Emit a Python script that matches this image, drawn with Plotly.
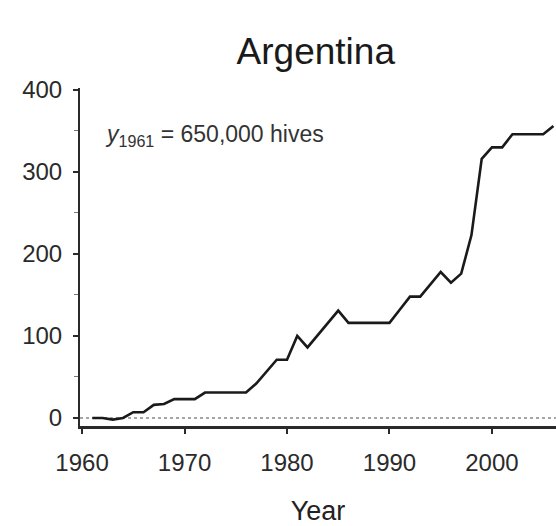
import plotly.graph_objects as go

# Managed honey-bee hives in Argentina, % change relative to 1961
years = list(range(1961, 2007))
pct_change = [
    0, 0, -2, 0, 7, 7, 16, 17, 23, 23,
    23, 31, 31, 31, 31, 31, 42, 57, 71, 71,
    100, 86, 101, 116, 131, 116, 116, 116, 116, 116,
    132, 148, 148, 163, 178, 165, 176, 223, 316, 330,
    330, 346, 346, 346, 346, 356,
]
x_ticks = [1960, 1970, 1980, 1990, 2000]
y_ticks = [0, 100, 200, 300, 400]

font_family = "Liberation Sans, Arial, sans-serif"
axis_color = "#2a2a2a"

fig = go.Figure()
fig.add_trace(go.Scatter(
    x=years, y=pct_change, mode="lines",
    line=dict(color="#1a1a1a", width=2.6),
    showlegend=False, hoverinfo="skip",
))

# dotted reference line at zero
fig.add_shape(type="line", xref="paper", x0=0, x1=1, yref="y", y0=0, y1=0,
              line=dict(color="#888888", width=1.5, dash="dot"), layer="below")

fig.add_annotation(
    text="<i>y</i><sub>1961</sub> = 650,000 hives",
    xref="x", yref="y", x=1962.0, y=345, xanchor="left", yanchor="middle",
    showarrow=False, font=dict(family=font_family, size=23, color="#333333"),
)

fig.update_layout(
    width=556, height=526,
    margin=dict(l=80, r=0, t=88, b=100),
    paper_bgcolor="white", plot_bgcolor="white",
    font=dict(family=font_family, color=axis_color),
    title=dict(text="Argentina", x=0.568, xanchor="center", xref="container",
               y=0.902, yanchor="middle", yref="container",
               font=dict(family=font_family, size=37, color="#1a1a1a")),
)
fig.update_xaxes(
    range=[1959.8, 2006.25], tickvals=x_ticks, ticktext=[str(v) for v in x_ticks],
    showgrid=False, zeroline=False, showline=True, linecolor=axis_color, linewidth=2.5,
    ticks="outside", ticklen=5, tickwidth=1.5, tickcolor=axis_color,
    tickfont=dict(size=24, color=axis_color), ticklabelstandoff=8,
    title=dict(text="Year", font=dict(size=27, color="#222222"), standoff=28),
)
fig.update_yaxes(
    range=[-9.8, 402.4], tickvals=y_ticks, ticktext=[str(v) for v in y_ticks],
    showgrid=False, zeroline=False, showline=True, linecolor=axis_color, linewidth=2,
    ticks="outside", ticklen=5, tickwidth=1.5, tickcolor=axis_color,
    tickfont=dict(size=24, color=axis_color), ticklabelstandoff=6,
    minor=dict(tickvals=[50, 150, 250, 350], ticks="outside", ticklen=4,
               tickwidth=1, tickcolor="#777777"),
)

fig.write_html("out.html")
